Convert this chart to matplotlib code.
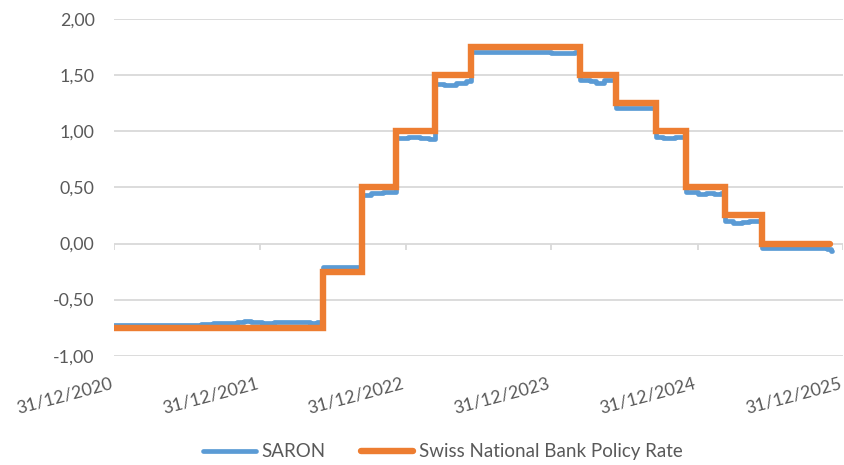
import matplotlib
matplotlib.use("Agg")
import matplotlib.pyplot as plt
import matplotlib.transforms as mtransforms
import pandas as pd
from matplotlib.ticker import FuncFormatter

plt.rcParams['font.family'] = ['Lato', 'DejaVu Sans']

# Swiss National Bank policy rate (step changes, dates)
policy_dates = ["2021-01-01", "2022-06-07", "2022-09-13", "2022-12-06", "2023-03-14",
                "2023-06-13", "2024-03-12", "2024-06-11", "2024-09-17", "2024-12-03",
                "2025-03-11", "2025-06-10", "2025-11-28"]
policy_rates = [-0.75, -0.25, 0.50, 1.00, 1.50, 1.75, 1.50, 1.25, 1.00, 0.50, 0.25, 0.00, 0.00]

# SARON
saron_dates = ["2021-01-01", "2021-03-01", "2021-05-01", "2021-07-01", "2021-08-05",
               "2021-09-05", "2021-10-05", "2021-11-05", "2021-11-21", "2021-12-10",
               "2022-01-05", "2022-02-05", "2022-03-05", "2022-04-05", "2022-05-05",
               "2022-05-22", "2022-06-07", "2022-07-05", "2022-08-05", "2022-08-31",
               "2022-09-13", "2022-10-05", "2022-11-05", "2022-11-25",
               "2022-12-06", "2023-01-05", "2023-02-05", "2023-02-28",
               "2023-03-14", "2023-04-05", "2023-05-05", "2023-05-31",
               "2023-06-13", "2023-07-22", "2023-09-21", "2023-11-21", "2023-12-31",
               "2024-01-22", "2024-02-29",
               "2024-03-12", "2024-04-05", "2024-04-21", "2024-05-10",
               "2024-06-11", "2024-07-05", "2024-08-05", "2024-09-05",
               "2024-09-17", "2024-10-05", "2024-11-05",
               "2024-12-03", "2024-12-31", "2025-01-22", "2025-02-10", "2025-02-28",
               "2025-03-11", "2025-03-31", "2025-04-21", "2025-05-10",
               "2025-06-10", "2025-07-10", "2025-08-10", "2025-09-10", "2025-10-10",
               "2025-11-05", "2025-11-20", "2025-11-30", "2025-12-02"]
saron_values = [-0.73, -0.73, -0.73, -0.73, -0.72,
                -0.71, -0.71, -0.70, -0.69, -0.70,
                -0.71, -0.70, -0.70, -0.70, -0.71,
                -0.70, -0.21, -0.21, -0.21, -0.21,
                0.43, 0.45, 0.46, 0.46,
                0.94, 0.95, 0.94, 0.93,
                1.42, 1.41, 1.43, 1.45,
                1.71, 1.71, 1.71, 1.71, 1.70,
                1.70, 1.71,
                1.46, 1.45, 1.43, 1.46,
                1.21, 1.21, 1.21, 1.21,
                0.95, 0.94, 0.95,
                0.46, 0.44, 0.45, 0.44, 0.45,
                0.20, 0.18, 0.19, 0.20,
                -0.04, -0.04, -0.04, -0.04, -0.04,
                -0.04, -0.05, -0.07, -0.07]

tick_dates = ["2020-12-31", "2021-12-31", "2022-12-31", "2023-12-31", "2024-12-31", "2025-12-31"]
y_ticks = [-1.0, -0.5, 0.0, 0.5, 1.0, 1.5, 2.0]

pd_ = pd.to_datetime(policy_dates)
sd_ = pd.to_datetime(saron_dates)
td_ = pd.to_datetime(tick_dates)

fig = plt.figure(figsize=(8.45, 4.65), dpi=100)
ax = fig.add_axes([0.135, 0.235, 0.863, 0.724])

grid_c = "#d9d9d9"
for y in y_ticks:
    ax.axhline(y, color=grid_c, lw=1.3, zorder=0)

ax.vlines(td_, -0.06, 0, color=grid_c, lw=1.3, zorder=0)

ax.plot(sd_, saron_values, drawstyle="steps-post", color="#5B9BD5", lw=3.4,
        solid_capstyle="round", solid_joinstyle="round", label="SARON", zorder=2)
ax.plot(pd_, policy_rates, drawstyle="steps-post", color="#ED7D31", lw=4.6,
        solid_capstyle="round", solid_joinstyle="miter",
        label="Swiss National Bank Policy Rate", zorder=3)

ax.set_xlim(td_[0], td_[-1])
ax.set_ylim(-1.0, 2.0)
ax.set_yticks(y_ticks)
ax.yaxis.set_major_formatter(FuncFormatter(lambda v, p: f"{v:.2f}".replace(".", ",")))
ax.set_xticks(td_)
ax.set_xticklabels([d.strftime("%d/%m/%Y") for d in td_], rotation=15, ha="right",
                   va="top", rotation_mode="anchor")
ax.tick_params(axis="both", length=0, labelsize=12.8, colors="#595959")
ax.tick_params(axis="y", pad=14)
ax.tick_params(axis="x", pad=14)
shift = mtransforms.ScaledTranslation(-4 / 100, 0, fig.dpi_scale_trans)
for lbl in ax.get_xticklabels():
    lbl.set_transform(lbl.get_transform() + shift)
for s in ax.spines.values():
    s.set_visible(False)

fig.legend(*ax.get_legend_handles_labels(), loc="center",
           bbox_to_anchor=(443 / 845, 0.028), ncol=2, frameon=False,
           fontsize=13.5, handlelength=2.8, columnspacing=1.9, handletextpad=0.3,
           labelcolor="#595959")

fig.savefig("out.png", dpi=100)
